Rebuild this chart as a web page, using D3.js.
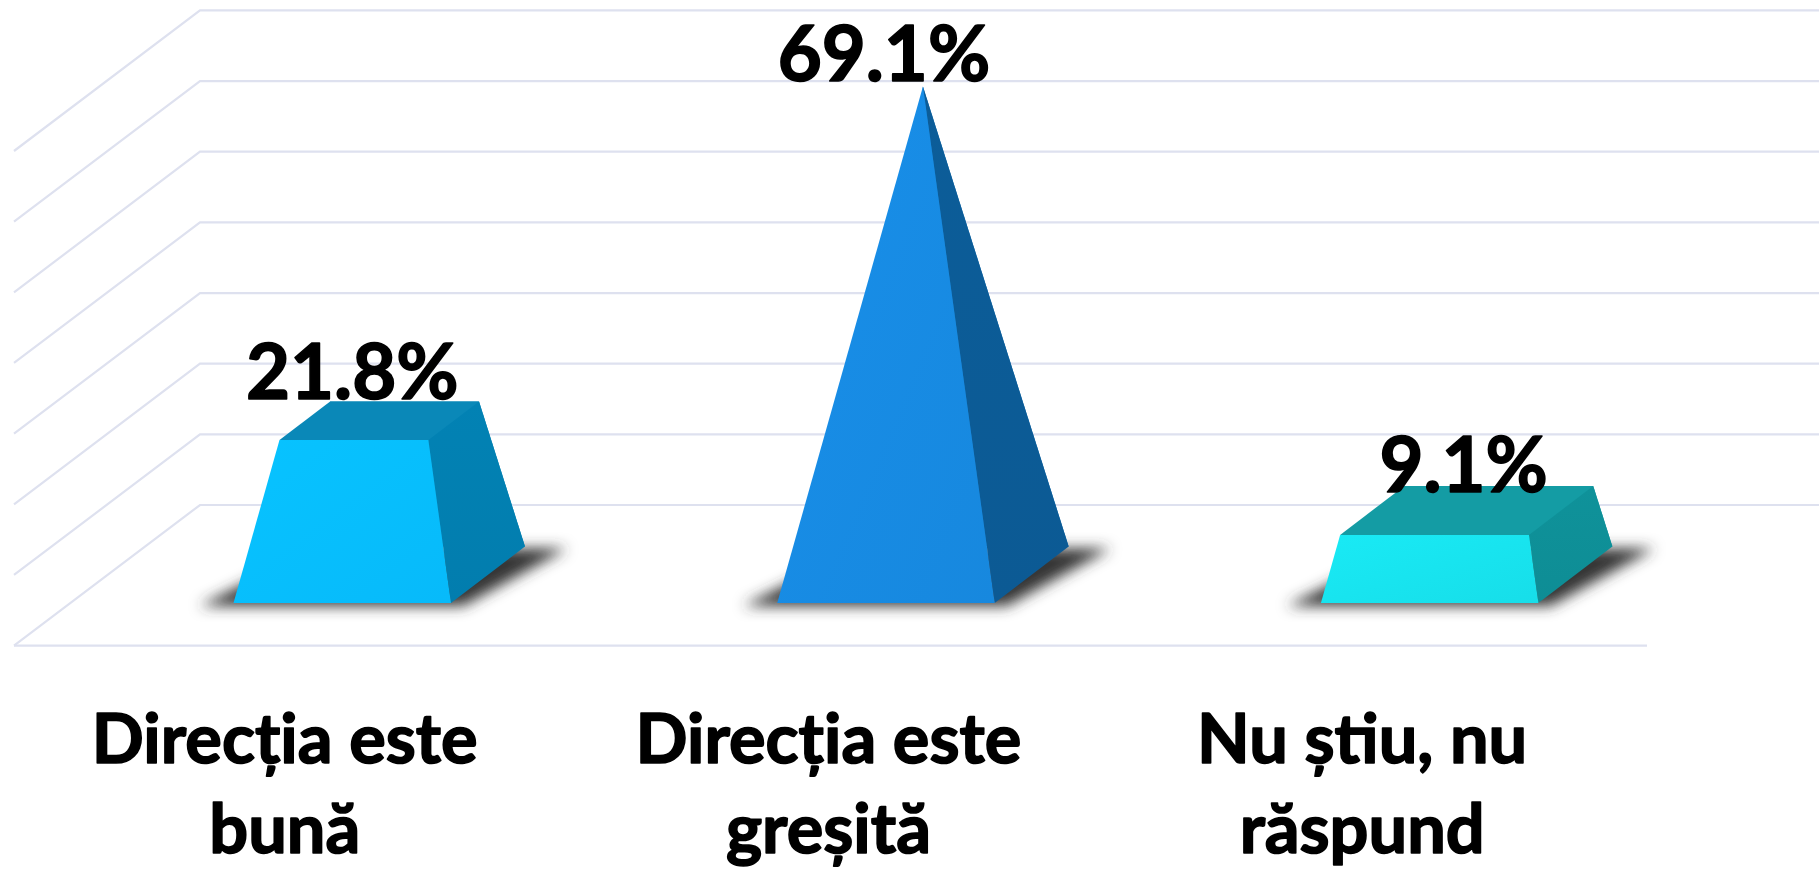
<!DOCTYPE html>
<html><head><meta charset="utf-8">
<script src="https://cdn.jsdelivr.net/npm/d3@7"></script>
<style>html,body{margin:0;padding:0;background:#fff;overflow:hidden}svg{display:block}</style>
</head><body><svg id="c" width="1819" height="869"></svg>
<script>
const categories = ["Direcția este bună","Direcția este greșită","Nu știu, nu răspund"];
const labelLines = [["Direcția este","bună"],["Direcția este","greșită"],["Nu știu, nu","răspund"]];
const values = [21.8,69.1,9.1];
const valueLabels = ["21.8%","69.1%","9.1%"];
const frontColors = ["#07BEFF","#178BE3","#18E3EE"];
const topColors = ["#0A88B8","#1272B8","#149CA4"];
const sideColors = ["#027DAE","#0C5A94","#0E8D95"];

const svg = d3.select("#c");
const defs = svg.append("defs");
const blur = defs.append("filter").attr("id","sh").attr("x","-20%").attr("y","-40%").attr("width","140%").attr("height","180%");
blur.append("feGaussianBlur").attr("stdDeviation",7);
frontColors.forEach((c,i)=>{
  const g = defs.append("linearGradient").attr("id","f"+i).attr("x1",0).attr("y1",0).attr("x2",1).attr("y2",1);
  g.append("stop").attr("offset",0).attr("stop-color",d3.color(c).brighter(0.08));
  g.append("stop").attr("offset",1).attr("stop-color",d3.color(c).darker(0.06));
  const s = defs.append("linearGradient").attr("id","s"+i).attr("x1",0).attr("y1",0).attr("x2",0).attr("y2",1);
  s.append("stop").attr("offset",0).attr("stop-color",d3.color(sideColors[i]).brighter(0.1));
  s.append("stop").attr("offset",1).attr("stop-color",sideColors[i]);
});

// scales
const yScale = d3.scaleLinear().domain([0,70]).range([505,10.4]);
const x = d3.scaleBand().domain(categories).range([233.5,1538.4]).paddingInner(0.6).paddingOuter(0);
const DX = 74, DY = -56.5, FRONT = 603;
const wallDX = 186, wallDY = 140.6, wallLeft = 200, floorRight = 1647;

// grid
const grid = svg.append("g").attr("fill","none").attr("stroke","#DEE1EF").attr("stroke-width",2.2);
const line = d3.line();
yScale.ticks(7).forEach(t=>{
  const y = yScale(t);
  grid.append("path").attr("d",line([[wallLeft-wallDX,y+wallDY],[wallLeft,y],[1819,y]]));
});
grid.append("path").attr("d",line([[wallLeft-wallDX,yScale(0)+wallDY],[floorRight,yScale(0)+wallDY]]));

// truncated pyramids: every one shares the apex height of the largest value
const vMax = d3.max(values);
categories.forEach((cat,i)=>{
  const x0 = x(cat), W = x.bandwidth(), t = values[i]/vMax;
  const apex = [x0+W/2+DX/2, FRONT+DY/2-(yScale(0)-yScale(vMax))];
  const base = (u,d)=>[x0+u*W+d*DX, FRONT+d*DY];
  const top = (u,d)=>{const b=base(u,d);return [b[0]+(apex[0]-b[0])*t, b[1]+(apex[1]-b[1])*t];};
  const g = svg.append("g");
  g.append("path").attr("d",line([
    [x0-34,FRONT+3],[x0+W+12,FRONT+3],[x0+W+DX+42,FRONT+DY+2],[x0+DX+8,FRONT+DY+2]
  ])+"Z").attr("fill","#363636").attr("filter","url(#sh)");
  g.append("path").attr("d",line([base(1,1),base(0,1),top(0,1),top(1,1)])+"Z").attr("fill",topColors[i]);
  g.append("path").attr("d",line([top(0,0),top(1,0),top(1,1),top(0,1)])+"Z").attr("fill",topColors[i]);
  g.append("path").attr("d",line([base(1,0),base(1,1),top(1,1),top(1,0)])+"Z").attr("fill",`url(#s${i})`);
  g.append("path").attr("d",line([base(0,0),base(1,0),top(1,0),top(0,0)])+"Z").attr("fill",`url(#f${i})`);
});

// text
const font = "Lato, Carlito, sans-serif";
const valDx = [-27,-39,-3], valBase = [399,81,491.5], catDx = [-1,-1,-11];
const textGroup = svg.append("g").attr("font-family",font).attr("font-weight",700).attr("fill","#000").attr("stroke","#000").attr("stroke-width",1.6).attr("stroke-linejoin","round").attr("text-anchor","middle");
categories.forEach((cat,i)=>{
  const cx = x(cat)+x.bandwidth()/2+DX/2;
  textGroup.append("text").attr("x",cx+valDx[i]).attr("y",valBase[i]).attr("font-size",76).text(valueLabels[i]);
  const lx = x(cat)+x.bandwidth()/2-56.5+catDx[i];
  labelLines[i].forEach((l,j)=>{
    textGroup.append("text").attr("x",lx).attr("y",763+90*j).attr("font-size",68.5).text(l);
  });
});
</script></body></html>
